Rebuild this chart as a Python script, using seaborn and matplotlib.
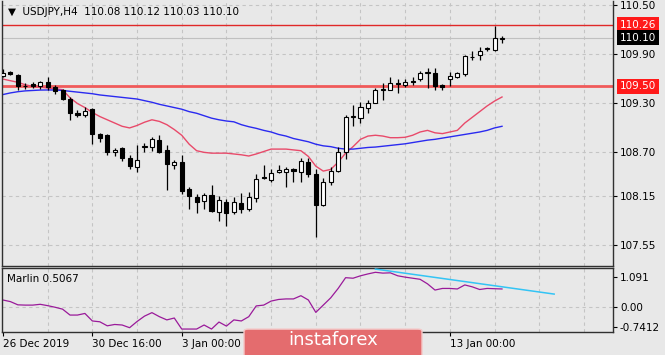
import numpy as np
import pandas as pd
import matplotlib
matplotlib.use("Agg")
import matplotlib.pyplot as plt
import matplotlib.transforms as mtrans
from matplotlib.patches import FancyBboxPatch
import seaborn as sns

# USDJPY H4 candles (bar 0 = 26 Dec 2019 16:00)
opens = [109.63, 109.68, 109.64, 109.51, 109.53, 109.50, 109.56, 109.49, 109.46, 109.34,
         109.17, 109.15, 109.22, 108.92, 108.90, 108.69, 108.74, 108.62, 108.51, 108.75,
         108.76, 108.84, 108.72, 108.53, 108.57, 108.24, 108.14, 108.09, 108.17, 107.96,
         108.08, 107.96, 108.07, 107.99, 108.13, 108.39, 108.35, 108.45, 108.45, 108.49,
         108.45, 108.57, 108.42, 108.04, 108.33, 108.46, 108.70, 109.13, 109.11, 109.24,
         109.30, 109.46, 109.46, 109.54, 109.52, 109.57, 109.59, 109.67, 109.67, 109.52,
         109.59, 109.62, 109.65, 109.86, 109.88, 109.96, 109.95, 110.08]
highs = [109.71, 109.69, 109.65, 109.54, 109.55, 109.57, 109.61, 109.52, 109.47, 109.37,
         109.21, 109.25, 109.24, 108.93, 108.92, 108.74, 108.75, 108.66, 108.78, 108.80,
         108.88, 108.90, 108.78, 108.60, 108.66, 108.27, 108.18, 108.19, 108.29, 108.15,
         108.12, 108.14, 108.19, 108.20, 108.43, 108.53, 108.49, 108.53, 108.51, 108.50,
         108.62, 108.62, 108.49, 108.37, 108.51, 108.76, 109.15, 109.27, 109.31, 109.33,
         109.48, 109.54, 109.62, 109.59, 109.59, 109.62, 109.69, 109.72, 109.72, 109.53,
         109.68, 109.68, 109.89, 109.94, 109.99, 109.99, 110.24, 110.12]
lows = [109.62, 109.64, 109.455, 109.47, 109.48, 109.47, 109.455, 109.41, 109.33, 109.09,
        109.13, 109.12, 108.79, 108.82, 108.66, 108.64, 108.58, 108.49, 108.45, 108.70,
        108.71, 108.68, 108.23, 108.49, 108.18, 108.00, 107.94, 108.00, 107.96, 107.85,
        107.79, 107.93, 107.94, 107.97, 108.08, 108.36, 108.33, 108.44, 108.27, 108.33,
        108.33, 108.39, 107.65, 108.03, 108.29, 108.45, 108.61, 109.01, 109.05, 109.17,
        109.29, 109.33, 109.45, 109.42, 109.49, 109.52, 109.57, 109.48, 109.46, 109.46,
        109.51, 109.60, 109.63, 109.83, 109.82, 109.93, 109.93, 110.03]
closes = [109.67, 109.65, 109.51, 109.50, 109.50, 109.56, 109.49, 109.44, 109.34, 109.17,
          109.15, 109.20, 108.915, 108.87, 108.70, 108.72, 108.62, 108.52, 108.59, 108.77,
          108.86, 108.69, 108.55, 108.57, 108.21, 108.15, 108.08, 108.17, 107.97, 108.10,
          107.95, 108.08, 108.00, 108.14, 108.36, 108.37, 108.44, 108.47, 108.48, 108.46,
          108.58, 108.43, 108.04, 108.33, 108.46, 108.70, 109.13, 109.14, 109.25, 109.30,
          109.45, 109.47, 109.54, 109.53, 109.56, 109.56, 109.67, 109.68, 109.50, 109.49,
          109.63, 109.66, 109.87, 109.86, 109.94, 109.97, 110.09, 110.10]

ma_red = [109.59, 109.57, 109.55, 109.52, 109.50, 109.49, 109.48, 109.47, 109.46, 109.36,
          109.29, 109.24, 109.18, 109.13, 109.09, 109.05, 109.01, 108.99, 109.02, 109.06,
          109.09, 109.07, 109.03, 108.97, 108.90, 108.79, 108.71, 108.69, 108.68, 108.68,
          108.68, 108.67, 108.66, 108.645, 108.67, 108.70, 108.73, 108.73, 108.73, 108.72,
          108.71, 108.64, 108.52, 108.46, 108.48, 108.57, 108.68, 108.76, 108.85, 108.89,
          108.90, 108.89, 108.87, 108.87, 108.875, 108.90, 108.94, 108.96, 108.93, 108.92,
          108.94, 108.96, 109.05, 109.12, 109.19, 109.26, 109.32, 109.37]
ma_blue = [109.40, 109.42, 109.435, 109.445, 109.45, 109.455, 109.456, 109.456, 109.45, 109.44,
           109.43, 109.42, 109.41, 109.395, 109.385, 109.375, 109.365, 109.355, 109.345, 109.325,
           109.305, 109.28, 109.26, 109.24, 109.22, 109.19, 109.17, 109.14, 109.11, 109.09,
           109.075, 109.065, 109.03, 109.005, 108.985, 108.96, 108.94, 108.91, 108.89, 108.86,
           108.84, 108.82, 108.79, 108.77, 108.76, 108.74, 108.73, 108.73, 108.74, 108.75,
           108.755, 108.765, 108.775, 108.785, 108.795, 108.81, 108.825, 108.84, 108.85, 108.865,
           108.88, 108.895, 108.91, 108.925, 108.94, 108.96, 108.99, 109.01]

marlin = [0.25, 0.19, 0.07, 0.06, 0.06, 0.09, 0.04, -0.02, -0.09, -0.31,
          -0.31, -0.25, -0.53, -0.56, -0.71, -0.66, -0.68, -0.78, -0.55, -0.35,
          -0.22, -0.37, -0.49, -0.42, -0.83, -0.83, -0.83, -0.68, -0.83, -0.57,
          -0.72, -0.49, -0.53, -0.37, 0.03, 0.06, 0.21, 0.27, 0.29, 0.29,
          0.41, 0.25, -0.21, 0.06, 0.33, 0.68, 1.08, 1.06, 1.15, 1.22,
          1.28, 1.25, 1.26, 1.15, 1.10, 1.06, 1.02, 0.85, 0.62, 0.68,
          0.68, 0.66, 0.81, 0.74, 0.64, 0.68, 0.67, 0.66]

trend_x = [50, 74]
trend_y = [1.40, 0.47]

level_top = 110.26
level_bottom = 109.50
last_price = 110.10

price_ticks = [110.50, 109.90, 109.30, 108.70, 108.15, 107.55]
marlin_ticks = [1.091, 0.00, -0.7412]
date_pos = [0, 12, 24, 60]
date_labels = ["26 Dec 2019", "30 Dec 16:00", "3 Jan 00:00", "13 Jan 00:00"]

df = pd.DataFrame({"bar": np.arange(len(opens)), "open": opens, "high": highs,
                   "low": lows, "close": closes, "ma_red": ma_red,
                   "ma_blue": ma_blue, "marlin": marlin})

bg = "#e8e8e8"
W, H = 665, 355
fig = plt.figure(figsize=(W / 100, H / 100), dpi=100, facecolor=bg)
ax = fig.add_axes([2 / W, 89 / H, 611 / W, 265 / H], facecolor=bg)
ax2 = fig.add_axes([2 / W, 23 / H, 611 / W, 64 / H], facecolor=bg)

xlim = (-0.13, 81.9)
grid_x = np.arange(6, 82, 6)
grid_kw = dict(color="#c4c4c4", lw=0.8, ls=(0, (3, 3)), zorder=0)

# ---- price panel
ax.set_xlim(*xlim)
ax.set_ylim(107.294, 110.549)
for gx in grid_x:
    ax.axvline(gx, **grid_kw)
for gy in price_ticks:
    ax.axhline(gy, **grid_kw)

ax.axhline(last_price, color="#c0c0c0", lw=0.8, zorder=1)
ax.axhline(level_top, color="#e02828", lw=1.0, zorder=1)
ax.axhline(level_bottom, color="#f05a5a", lw=2.0, zorder=1)

sns.lineplot(data=df, x="bar", y="ma_red", ax=ax, color="#e84a6a", lw=1.0, zorder=2)
sns.lineplot(data=df, x="bar", y="ma_blue", ax=ax, color="#2a2af0", lw=1.0, zorder=2)

up = df["close"] >= df["open"]
ax.vlines(df["bar"], df["low"], df["high"], color="black", lw=0.9, zorder=3)
body_lo = np.minimum(df["open"], df["close"])
body_h = (df["close"] - df["open"]).abs()
ax.bar(df["bar"][up], body_h[up], bottom=body_lo[up], width=0.55,
       color="white", edgecolor="black", lw=0.8, zorder=4)
ax.bar(df["bar"][~up], body_h[~up], bottom=body_lo[~up], width=0.55,
       color="black", edgecolor="black", lw=0.8, zorder=4)

ax.set_xlabel("")
ax.set_ylabel("")
ax.set_xticks([])
ax.yaxis.tick_right()
ax.set_yticks(price_ticks)
ax.set_yticklabels([f"{v:.2f}" for v in price_ticks])
ax.tick_params(axis="y", direction="out", length=3, width=0.8, pad=2,
               labelsize=7.5, colors="black")
for side in ["left", "right", "bottom"]:
    ax.spines[side].set_color("#303030")
    ax.spines[side].set_linewidth(1.0)
ax.spines["top"].set_visible(False)

tr = mtrans.blended_transform_factory(ax.transAxes, ax.transData)
for val, fc in [(level_top, "#ff1a1a"), (last_price, "black"), (level_bottom, "#ff1a1a")]:
    ax.text(1.011, val, f"{val:.2f}", transform=tr, ha="left", va="center",
            fontsize=7.5, color="white",
            bbox=dict(boxstyle="square,pad=0.25", fc=fc, ec="none"))

fig.text(8 / W, 1 - 12 / H, "▼  USDJPY,H4  110.08 110.12 110.03 110.10",
         fontsize=7.5, va="center", ha="left", color="black")

# ---- Marlin panel
ax2.set_xlim(*xlim)
ax2.set_ylim(-0.94, 1.44)
for gx in grid_x:
    ax2.axvline(gx, **grid_kw)
ax2.axhline(0, **grid_kw)
sns.lineplot(data=df, x="bar", y="marlin", ax=ax2, color="#9a1a9a", lw=0.9, zorder=2)
sns.lineplot(x=trend_x, y=trend_y, ax=ax2, color="#33c4f5", lw=1.1, zorder=3)
ax2.set_xlabel("")
ax2.set_ylabel("")
ax2.yaxis.tick_right()
ax2.set_yticks(marlin_ticks)
ax2.set_yticklabels(["1.091", "0.00", "-0.7412"])
ax2.tick_params(axis="y", direction="out", length=3, width=0.8, pad=2, labelsize=7.5)
ax2.set_xticks(date_pos)
ax2.set_xticklabels(date_labels, ha="left")
ax2.tick_params(axis="x", direction="out", length=3, width=0.8, pad=2, labelsize=7.5)
for side in ["left", "right", "bottom", "top"]:
    ax2.spines[side].set_color("#303030")
    ax2.spines[side].set_linewidth(1.0)
ax2.text(0.009, 0.83, "Marlin 0.5067", transform=ax2.transAxes, fontsize=7.5,
         ha="left", va="center")

# ---- watermark badge
badge = FancyBboxPatch((244 / W, -0.02), 178 / W, 33 / H,
                       boxstyle="round,pad=0,rounding_size=0.006",
                       transform=fig.transFigure, fc="#e46c6e", ec="#f4c8c8",
                       lw=1.0, zorder=10)
fig.patches.append(badge)
fig.text(333 / W, 1 - 340 / H, "instaforex", fontsize=13, color="white",
         ha="center", va="center", zorder=11)

fig.savefig("out.png", dpi=100, facecolor=bg)
